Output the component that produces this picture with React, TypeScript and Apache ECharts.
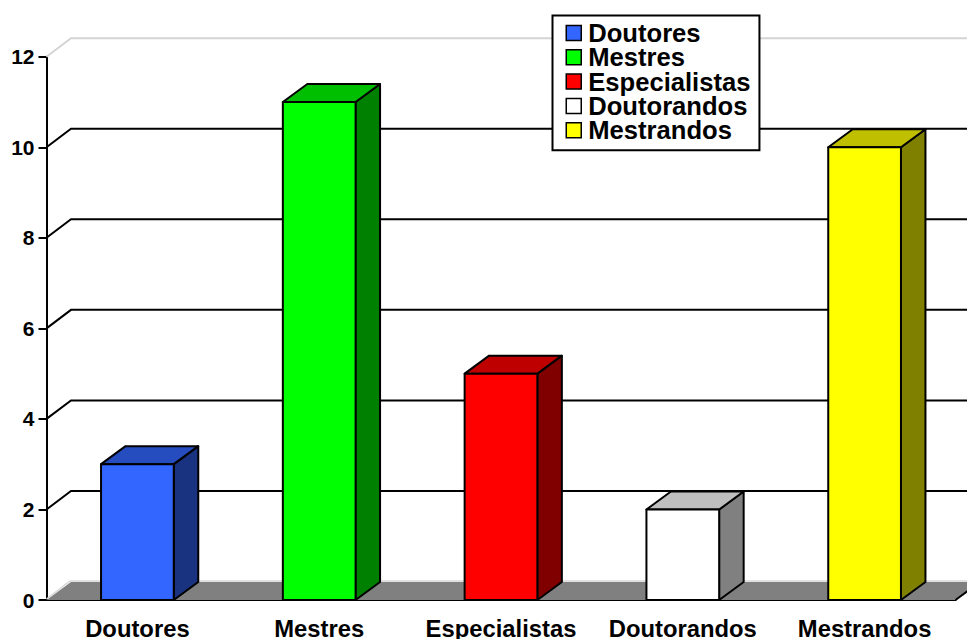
import React, { useEffect, useRef } from "react";
import * as echarts from "echarts";

const categories = ["Doutores", "Mestres", "Especialistas", "Doutorandos", "Mestrandos"];
const values = [3, 11, 5, 2, 10];
const frontColors = ["#3366ff", "#00ff00", "#ff0000", "#ffffff", "#ffff00"];
const topColors = ["#264dbf", "#00bf00", "#bf0000", "#bfbfbf", "#bfbf00"];
const sideColors = ["#1a3380", "#008000", "#800000", "#808080", "#808000"];
const gridValues = [2, 4, 6, 8, 10];
const DX = 24.5;
const DY = -18;
const GRID_DY = -18.5;
const BAR_RATIO = 0.4;
const FONT = "'Liberation Sans', Arial, sans-serif";

function wallItem(params: any, api: any) {
  const v = api.value(1);
  const [, y] = api.coord([0, v]);
  const cs = params.coordSys;
  const x0 = cs.x;
  const W = api.getWidth();
  const stroke = { stroke: "#000", lineWidth: 2, fill: "none" };
  const shape = { points: [[x0, y], [x0 + DX, y + GRID_DY], [W + 2, y + GRID_DY]] };
  return { type: "polyline", silent: true, shape, style: stroke };
}

function floorAndBackItem(params: any, api: any) {
  const cs = params.coordSys;
  const x0 = cs.x;
  const x1 = cs.x + cs.width;
  const W = api.getWidth();
  const y0 = api.coord([0, 0])[1];
  const y12 = api.coord([0, 12])[1];
  return {
    type: "group",
    silent: true,
    children: [
      {
        type: "polygon",
        shape: { points: [[x0, y0], [x0 + DX, y0 + DY], [x1 + DX, y0 + DY], [x1, y0]] },
        style: { fill: "#808080" },
      },
      {
        type: "polyline",
        shape: { points: [[x0, y0 - 1], [x0 + DX - 1, y0 + DY - 1], [W + 2, y0 + DY - 1]] },
        style: { stroke: "#d8d8d8", lineWidth: 1.5, fill: "none" },
      },
      {
        type: "polyline",
        shape: { points: [[x0, y12], [x0 + DX, y12 + GRID_DY], [W + 2, y12 + GRID_DY]] },
        style: { stroke: "#d4d4d4", lineWidth: 2, fill: "none" },
      },
      {
        type: "line",
        shape: { x1, y1: y0, x2: x1 + DX, y2: y0 + DY },
        style: { stroke: "#000", lineWidth: 2 },
      },
    ],
  };
}

function barItem(index: number) {
  return (_params: any, api: any) => {
    const [cx, yTop] = api.coord([api.value(0), api.value(1)]);
    const yBase = api.coord([api.value(0), 0])[1];
    const w = api.size([1, 0])[0] * BAR_RATIO;
    const l = cx - w / 2;
    const r = cx + w / 2;
    const edge = { stroke: "#000", lineWidth: 2, lineJoin: "round" };
    return {
      type: "group",
      children: [
        {
          type: "polygon",
          shape: { points: [[r, yBase], [r + DX, yBase + DY], [r + DX, yTop + DY], [r, yTop]] },
          style: { fill: sideColors[index], ...edge },
        },
        {
          type: "polygon",
          shape: { points: [[l, yTop], [l + DX, yTop + DY], [r + DX, yTop + DY], [r, yTop]] },
          style: { fill: topColors[index], ...edge },
        },
        {
          type: "rect",
          shape: { x: l, y: yTop, width: w, height: yBase - yTop },
          style: { fill: frontColors[index], ...edge },
        },
      ],
    };
  };
}

export default function App() {
  const ref = useRef<HTMLDivElement>(null);
  useEffect(() => {
    document.body.style.margin = "0";
    const chart = echarts.init(ref.current!, null, { renderer: "svg" });
    chart.setOption({
      animation: false,
      backgroundColor: "#fff",
      grid: { left: 46.5, right: 11.5, top: 56.7, bottom: 39, outerBoundsMode: "none" },
      xAxis: {
        type: "category",
        data: categories,
        boundaryGap: true,
        axisLine: { lineStyle: { color: "#000", width: 2 } },
        axisTick: { length: 8, lineStyle: { color: "#000", width: 2 } },
        axisLabel: {
          color: "#000",
          fontFamily: FONT,
          fontWeight: "bold",
          fontSize: 23.8,
          margin: 16,
          interval: 0,
          hideOverlap: false,
        },
      },
      yAxis: {
        type: "value",
        min: 0,
        max: 12,
        interval: 2,
        splitLine: { show: false },
        axisLine: { show: true, lineStyle: { color: "#000", width: 2 } },
        axisTick: { show: true, length: 8, lineStyle: { color: "#000", width: 2 } },
        axisLabel: {
          color: "#000",
          fontFamily: FONT,
          fontWeight: "bold",
          fontSize: 21,
          margin: 12,
          padding: [2, 0, 0, 0],
        },
      },
      legend: {
        show: true,
        orient: "vertical",
        left: 552.5,
        top: 15.5,
        data: categories,
        selectedMode: false,
        backgroundColor: "#fff",
        borderColor: "#000",
        borderWidth: 2,
        padding: [4.5, 9, 7, 13],
        itemWidth: 15,
        itemHeight: 15,
        itemGap: -1.7,
        icon: "rect",
        align: "left",
        itemStyle: { borderColor: "#000", borderWidth: 1.5 },
        textStyle: {
          color: "#000",
          fontFamily: FONT,
          fontWeight: "bold",
          fontSize: 25.6,
          lineHeight: 24,
          padding: [0, 0, 0, 2],
        },
        z: 10,
      },
      series: [
        {
          type: "custom",
          name: "back",
          clip: false,
          renderItem: floorAndBackItem,
          data: [[0, 0]],
          z: 1,
          silent: true,
        },
        {
          type: "custom",
          name: "grid",
          clip: false,
          renderItem: wallItem,
          data: gridValues.map((v) => [0, v]),
          z: 2,
          silent: true,
        },
        ...categories.map((name, i) => ({
          type: "custom",
          name,
          clip: false,
          renderItem: barItem(i),
          data: [[i, values[i]]],
          itemStyle: { color: frontColors[i] },
          z: 3,
          silent: true,
        })),
      ],
    });
    return () => chart.dispose();
  }, []);
  return <div ref={ref} style={{ width: 967, height: 639 }} />;
}
